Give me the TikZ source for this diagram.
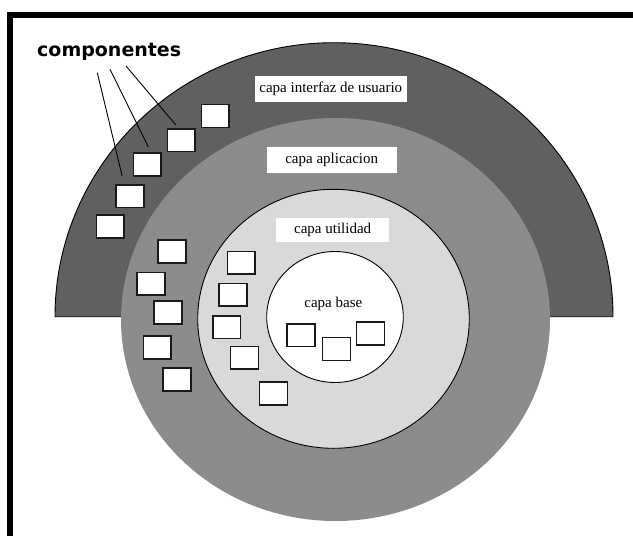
\documentclass[tikz,border=0pt]{standalone}
\usepackage{fontspec}
\setmainfont{Liberation Serif}
\newfontfamily\rotulo{DejaVu Sans}

\definecolor{capaexterna}{gray}{0.376}
\definecolor{capamedia}{gray}{0.55}
\definecolor{capautil}{gray}{0.85}

\tikzset{
  componente/.style={draw=black!90, line width=1.6pt, fill=white, inner sep=0pt,
    minimum width=27.9pt, minimum height=22.9pt},
  capanombre/.style={fill=white, inner sep=0pt, minimum height=25.5pt,
    font=\fontsize{15}{18}\selectfont},
  borde/.style={draw=black, line width=0.9pt},
  guia/.style={line width=0.9pt}
}

\begin{document}
\begin{tikzpicture}[x=1pt,y=-1pt]
  \useasboundingbox (0,0) rectangle (633,536);

  % Draw the outer half (user interface layer)
  \filldraw[borde, fill=capaexterna] (55,316.7) arc[start angle=180, end angle=360, x radius=279, y radius=274] -- cycle;

  % Draw the application layer
  \fill[capamedia] (335.5,319.5) ellipse [x radius=214.5, y radius=201.5];

  % Draw the utility and base layers
  \filldraw[borde, fill=capautil] (333.5,318.8) ellipse [x radius=135.8, y radius=129.5];
  \filldraw[borde, fill=white] (335,317) ellipse [x radius=68.3, y radius=65.5];

  % layer names
  \node[capanombre, minimum width=152pt] (interfaz) at (330.8,88.8) {capa interfaz de usuario};
  \node[capanombre, minimum width=130pt] (aplicacion) at (331.7,160) {capa aplicacion};
  \node[capanombre, minimum width=113pt, minimum height=24.3pt] (utilidad) at (332.7,229.8) {capa utilidad};
  \node[font=\fontsize{15}{18}\selectfont, inner sep=0pt] (base) at (333.3,304) {capa base};

  % components of the user interface layer
  \node[componente] (c1) at (215.3,116) {};
  \node[componente] (c2) at (181.3,140.2) {};
  \node[componente] (c3) at (147.3,164.5) {};
  \node[componente] (c4) at (129.8,196.2) {};
  \node[componente] (c5) at (110.3,226.5) {};

  % components of the application layer
  \node[componente] (a1) at (171.8,251.5) {};
  \node[componente] (a2) at (150.8,283.8) {};
  \node[componente] (a3) at (167.8,312.7) {};
  \node[componente] (a4) at (157.3,347.3) {};
  \node[componente] (a5) at (176.8,379.5) {};

  % components of the utility layer
  \node[componente] (u1) at (241.3,262.8) {};
  \node[componente] (u2) at (233.2,294.8) {};
  \node[componente] (u3) at (226.7,327.2) {};
  \node[componente] (u4) at (244.5,357.8) {};
  \node[componente] (u5) at (273.5,393.3) {};

  % components of the base layer
  \node[componente] (b1) at (300.8,335.2) {};
  \node[componente] (b2) at (336.5,349) {};
  \node[componente] (b3) at (370.5,333.5) {};

  % label and its leader lines
  \node[anchor=base west, inner sep=0pt, font=\rotulo\bfseries\fontsize{19}{22}\selectfont] (componentes) at (37,56.7) {componentes};
  \coordinate (g1) at (97.3,72.7);
  \coordinate (g2) at (110,69.3);
  \coordinate (g3) at (126,66);
  \draw[guia, shorten >=8.5pt] (g1) -- ([xshift=9pt]c4.north west);
  \draw[guia, shorten >=6pt] (g2) -- ([xshift=18.4pt]c3.north west);
  \draw[guia, shorten >=4pt] (g3) -- ([xshift=11.8pt]c2.north west);

  % frame
  \draw[line width=6pt] (10.3,545) -- (10.3,15) -- (645,15);
\end{tikzpicture}
\end{document}
